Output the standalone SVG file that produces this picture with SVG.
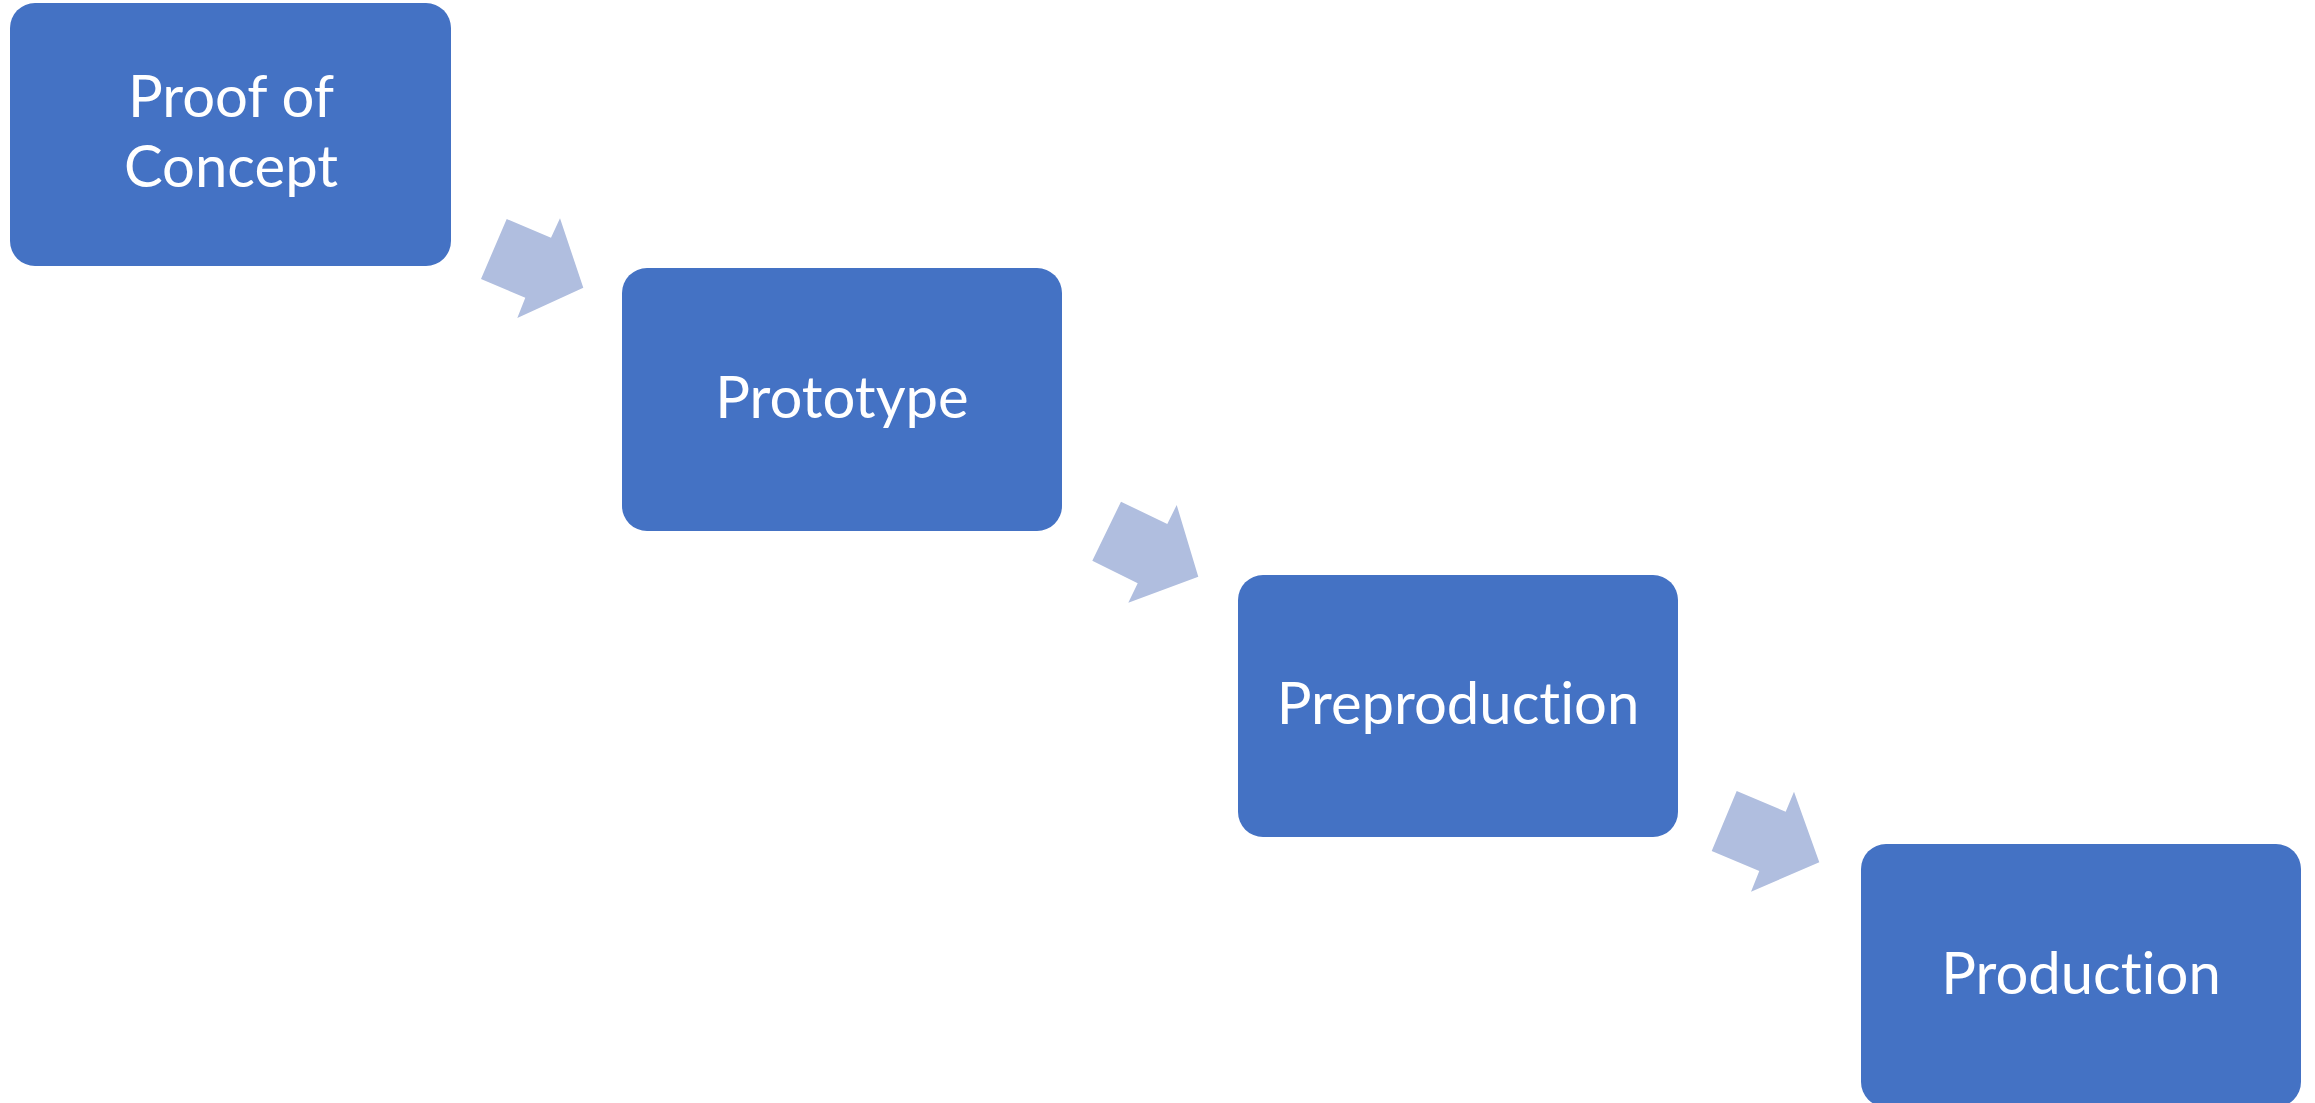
<svg xmlns="http://www.w3.org/2000/svg" width="2315" height="1103" viewBox="0 0 2315 1103">
<style>
.box{fill:#4472C4;}
.arr{fill:#B0BEDF;}
.lbl{font-family:Lato,"Open Sans","Liberation Sans",sans-serif;font-size:58px;fill:#FFFFFF;text-anchor:middle;font-variant-ligatures:none;font-feature-settings:"liga" 0,"dlig" 0;}
</style>
<rect width="2315" height="1103" fill="#FFFFFF"/>
<g id="connectors">
<polygon class="arr" points="506.7,219 551,237.7 560,218.3 583.3,287.7 517.3,318 525.3,297.7 481,279"/>
<polygon class="arr" points="1121,501.7 1167.3,524 1176.7,505 1198.3,576.7 1128.3,602.7 1137.7,583.3 1092.3,560.7"/>
<polygon class="arr" points="1736.7,791 1785.7,811.7 1794,791.7 1819.3,862.3 1751,891.7 1759.3,871 1711.7,851"/>
</g>
<g id="node-poc">
<rect class="box" x="10" y="3" width="441" height="263" rx="25"/>
<text class="lbl" x="231" y="117">Proof of</text>
<text class="lbl" x="231" y="187">Concept</text>
</g>
<g id="node-prototype">
<rect class="box" x="622" y="268" width="440" height="263" rx="25"/>
<text class="lbl" x="842" y="418">Prototype</text>
</g>
<g id="node-preproduction">
<rect class="box" x="1238" y="575" width="440" height="262" rx="25"/>
<text class="lbl" x="1458" y="724">Preproduction</text>
</g>
<g id="node-production">
<rect class="box" x="1861" y="844" width="440" height="263" rx="25"/>
<text class="lbl" x="2081" y="994">Production</text>
</g>
</svg>
